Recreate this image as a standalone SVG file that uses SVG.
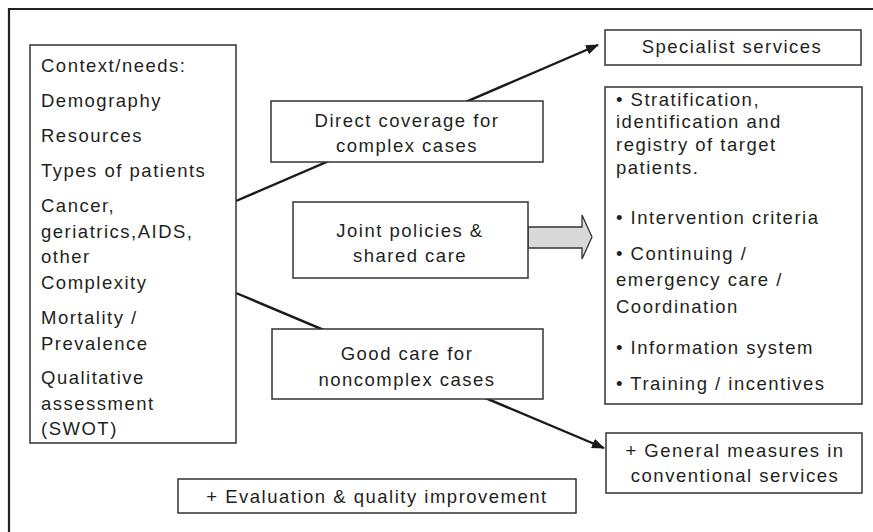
<svg xmlns="http://www.w3.org/2000/svg" width="873" height="532" viewBox="0 0 873 532">
  <style>
    .box { fill: #ffffff; stroke: #333333; stroke-width: 1.5; }
    .frame { fill: none; stroke: #222222; stroke-width: 2.2; }
    .link { fill: none; stroke: #1a1a1a; stroke-width: 2.4; }
    text { font-family: "Liberation Sans", Arial, sans-serif; font-size: 18.5px; letter-spacing: 1.5px; fill: #231f20; }
    .c { text-anchor: middle; }
  </style>
  <defs>
    <marker id="head" viewBox="0 0 13 10" refX="12" refY="5" markerWidth="13" markerHeight="10" markerUnits="userSpaceOnUse" orient="auto">
      <path d="M0,0 L13,5 L0,10 Z" fill="#1a1a1a"/>
    </marker>
  </defs>

  <rect width="873" height="532" fill="#ffffff"/>
  <!-- outer frame, open to the right and bottom -->
  <path class="frame" d="M9,540 L9,9 L880,9"/>

  <!-- connectors -->
  <g id="connectors">
    <line class="link" x1="236" y1="201" x2="598" y2="45" marker-end="url(#head)"/>
    <line class="link" x1="236" y1="293" x2="604" y2="448" marker-end="url(#head)"/>
    <path id="shared-arrow" d="M528,227 L582,227 L582,215 L592,237 L582,259 L582,248 L528,248 Z" fill="#d9d9d9" stroke="#333333" stroke-width="1.3"/>
  </g>

  <g id="context">
    <rect class="box" x="30" y="45" width="206" height="398"/>
    <text x="41" y="72">Context/needs:</text>
    <text x="41" y="107">Demography</text>
    <text x="41" y="142">Resources</text>
    <text x="41" y="177">Types of patients</text>
    <text x="41" y="212">Cancer,</text>
    <text x="41" y="237.5">geriatrics,AIDS,</text>
    <text x="41" y="263">other</text>
    <text x="41" y="288.5">Complexity</text>
    <text x="41" y="324">Mortality /</text>
    <text x="41" y="349.5">Prevalence</text>
    <text x="41" y="384">Qualitative</text>
    <text x="41" y="409.5">assessment</text>
    <text x="41" y="435">(SWOT)</text>
  </g>

  <g id="direct-coverage">
    <rect class="box" x="271" y="101" width="272" height="61"/>
    <text class="c" x="407" y="127">Direct coverage for</text>
    <text class="c" x="407" y="152">complex cases</text>
  </g>

  <g id="joint-policies">
    <rect class="box" x="293" y="202" width="235" height="76"/>
    <text class="c" x="410" y="237">Joint policies &amp;</text>
    <text class="c" x="410" y="262">shared care</text>
  </g>

  <g id="good-care">
    <rect class="box" x="272" y="329" width="271" height="70"/>
    <text class="c" x="407" y="360">Good care for</text>
    <text class="c" x="407" y="386">noncomplex cases</text>
  </g>

  <g id="specialist">
    <rect class="box" x="605" y="30" width="256" height="35"/>
    <text class="c" x="732" y="53">Specialist services</text>
  </g>

  <g id="measures">
    <rect class="box" x="605" y="87" width="257" height="317"/>
    <text x="616" y="106">• Stratification,</text>
    <text x="616" y="128">identification and</text>
    <text x="616" y="151">registry of target</text>
    <text x="616" y="174">patients.</text>
    <text x="616" y="224">• Intervention criteria</text>
    <text x="616" y="260">• Continuing /</text>
    <text x="616" y="286">emergency care /</text>
    <text x="616" y="313">Coordination</text>
    <text x="616" y="354">• Information system</text>
    <text x="616" y="390">• Training / incentives</text>
  </g>

  <g id="general-measures">
    <rect class="box" x="606" y="433" width="256" height="60"/>
    <text class="c" x="735" y="457">+ General measures in</text>
    <text class="c" x="735" y="482">conventional services</text>
  </g>

  <g id="evaluation">
    <rect class="box" x="178" y="479" width="398" height="34"/>
    <text class="c" x="377" y="503">+ Evaluation &amp; quality improvement</text>
  </g>
</svg>
